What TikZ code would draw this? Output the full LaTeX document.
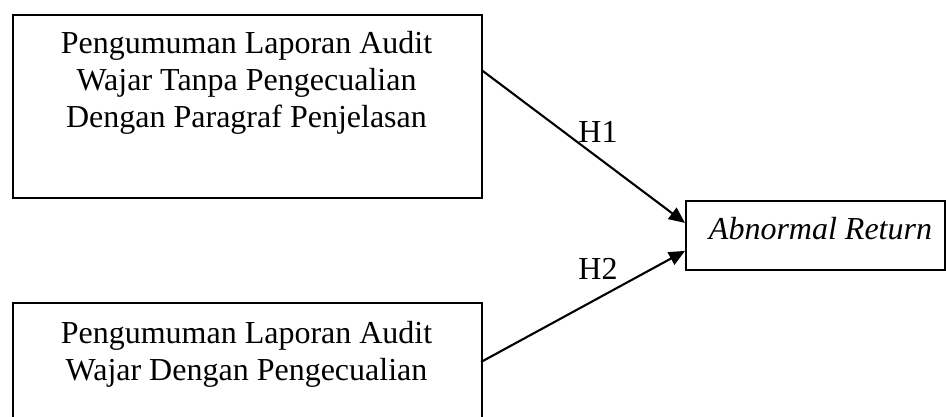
\documentclass[tikz,border=0pt]{standalone}
\usepackage{fontspec}
\setmainfont{Liberation Serif}
\usetikzlibrary{arrows.meta,calc}
\tikzset{
  box/.style={draw, line width=1.8pt, rectangle, inner sep=0pt, anchor=north west},
  boxtext/.style={inner sep=0pt, align=center, anchor=base, font=\fontsize{32}{37}\selectfont},
  conn/.style={line width=2.1pt, -{Triangle[length=16pt,width=14pt]}},
  hlabel/.style={inner sep=0pt, anchor=base, font=\fontsize{32}{37}\selectfont}
}
\begin{document}
\begin{tikzpicture}[x=1pt,y=-1pt]
\useasboundingbox (0,0) rectangle (946,417);
\clip (0,0) rectangle (946,417);
\node[box, minimum width=469pt, minimum height=183pt] (a) at (12,14) {};
\node[box, minimum width=469pt, minimum height=130pt] (b) at (12,302) {};
\node[box, minimum width=259pt, minimum height=69pt] (r) at (685,200) {};
\node[boxtext] (at) at (246.5,128) {Pengumuman Laporan Audit\\Wajar Tanpa Pengecualian\\Dengan Paragraf Penjelasan};
\node[boxtext] (bt) at (246.5,380) {Pengumuman Laporan Audit\\Wajar Dengan Pengecualian};
\node[boxtext] (rt) at (820.5,240) {\itshape Abnormal Return};
\coordinate (a1) at ($(a.north east)+(0,57)$);
\coordinate (b1) at ($(b.north west)+(469,60)$);
\coordinate (r1) at ($(r.west)+(0,-12.5)$);
\coordinate (r2) at ($(r.west)+(0,15.5)$);
\draw[conn] (a1) -- (r1);
\draw[conn] (b1) -- (r2);
\node[hlabel] (h1) at (598,143) {H1};
\node[hlabel] (h2) at (598,279) {H2};
\end{tikzpicture}
\end{document}
